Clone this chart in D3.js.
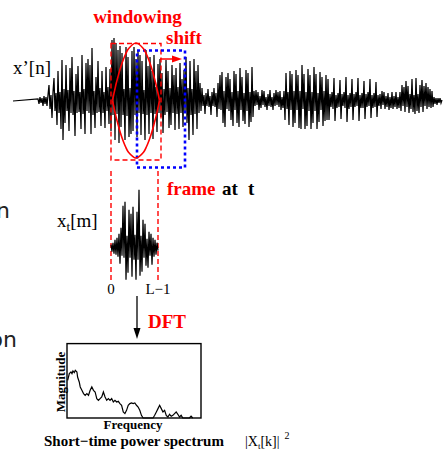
<!DOCTYPE html>
<html><head><meta charset="utf-8">
<script src="https://cdn.jsdelivr.net/npm/d3@7"></script>
<style>html,body{margin:0;padding:0;background:#fff;} svg{display:block;}</style>
</head><body>
<svg id="c" width="443" height="454"></svg>
<script>
// ---- data ----
// speech signal x'[n], one sample per pixel column, amplitude in px units
const waveSamples = [
  2,-3,4,-2,3,-5,5,-3,4,-5,6,
  16,-8,6,-17,9,
  23,-10,8,-24,30,-12,9,-28,41,-39,
  12,-22,36,-10,11,-30,33,-12,44,-14,10,-35,27,-12,
  35,-11,9,-28,46,-13,12,-33,38,-10,42,-12,36,
  -33,53,-14,
  10,-27,24,-12,40,-11,13,-25,30,-12,9,-27,34,-10,14,-23,32,
  -30,61,-14,63,-39,58,-13,51,-42,55,
  -26,48,-14,12,-39,54,-15,44,-36,13,-33,50,-30,
  54,-14,42,-36,50,-12,46,
  -34,40,-13,11,-39,51,-14,35,-33,44,-12,30,-38,46,-13,14,-31,37,-12,42,
  -16,28,-32,12,-14,41,-11,30,-27,13,-24,36,-12,26,-29,33,-13,14,-28,38,-12,22,-26,
  31,-12,44,-22,13,-39,40,-14,12,-34,42,-13,30,-28,36,-12,18,
  -10,13,-5,6,-13,8,-5,12,-6,5,-14,9,-5,13,-6,8,
  -16,18,-8,26,-9,29,-22,10,-26,24,-8,28,-10,22,-19,9,-25,30,-9,27,-22,10,-26,33,-9,24,-20,8,-23,31,-10,28,-26,9,-21,34,-16,
  10,-5,11,-4,9,-9,5,-7,11,-4,10,-6,4,-9,7,-5,11,-6,4,-9,8,-5,11,-4,9,-6,10,-9,4,-7,10,
  -19,28,-8,9,-24,30,-9,27,-26,10,-22,31,-9,26,-27,10,-28,36,-8,27,-28,9,-25,32,-10,26,-28,9,-22,34,-10,27,-28,8,-21,29,-9,24,-25,10,-20,26,-19,
  22,-19,7,-6,9,-8,23,-20,6,-7,8,-6,21,-18,7,-5,9,-7,24,-21,6,-8,8,-6,22,-19,7,-6,9,-5,23,-20,6,-7,8,-7,20,-18,7,-6,9,-5,22,-17,6,-7,8,-6,19,-16,6,-5,7,
  -8,10,-4,9,-8,5,-6,8,-9,4,-7,9,-8,5,-6,9,-8,4,-7,9,
  -10,16,-5,14,-11,20,-6,15,-12,7,-8,22,-11,6,-13,23,-10,7,-12,16,-6,21,-11,15,-5,18,-8,14,-6,12,-7,10,-6,
  4,-3,3,-4,3,-2,3,-2,1
];
const silentSamples = 25;          // flat lead-in before the speech starts
// windowed frame x_t[m]
const frameSamples = [
  3,-4,5,-6,8,-7,10,-9,
  14,-16,20,-8,42,-10,46,-32,
  12,-25,38,-10,34,-29,41,-12,
  13,-32,36,-12,58,-28,12,-24,
  28,-10,24,-18,9,-20,16,-8,
  14,-17,10,-9,8,-7,5,-3
];
// short-time power spectrum
const specBins = [0.4,1.4,2.4,3,3.6,4.4,5,6,6.4,7.4,8,9,10,11,12,13,14,15,16,17,18,19,20,21,22,23,24,25,26,27,28,29,30,31,32,33,34,35,36,37,38,39,40,41,42,43,44,45,46,52,53,54,55,56,57,58,59,60,61,62,63,64,65,66,67,68,69,70,74,75,76];
const specMag  = [50.7,59.7,61.8,59.7,63.2,61.0,64.1,61.8,55.1,48.4,41.7,37.2,32.8,30.5,32.8,30.5,37.2,41.7,37.2,35.0,26.1,23.8,26.1,28.2,35.0,28.2,23.8,26.1,23.8,26.1,21.5,23.8,21.5,22.4,19.4,17.1,8.1,5.9,10.3,17.1,19.4,20.2,19.4,20.2,17.1,14.8,10.3,3.6,0,0,3.6,8.1,12.6,17.1,12.6,8.1,10.3,3.6,1.3,5.0,2.3,3.6,5.9,8.1,5.0,1.3,3.6,0,0,2.5,0];
// analysis window outline: relative half-width from centre (0) to edge (1)
const windowProfile = [1, 0.95, 0.895, 0.84, 0.775, 0.71, 0.635, 0.55, 0.45, 0.32, 0];
const windowStart = 73, windowLength = 49, windowShift = 26;
const frameTicks = ["0", "L\u22121"];

// ---- drawing ----
const svg = d3.select("#c");
const SERIF = "'Liberation Serif','Times New Roman',serif";
const RED = "#ff0000", BLUE = "#0000ff";

const xWave = d3.scaleLinear().domain([0, waveSamples.length - 1]).range([38, 442]);
const yWave = d3.scaleLinear().domain([-64, 64]).range([165, 37]);

const wavePts = [[-silentSamples, 0]].concat(waveSamples.map((v, i) => [i, v]));
svg.append("path")
  .attr("d", d3.line().x(d => xWave(d[0])).y(d => yWave(d[1]))(wavePts))
  .attr("fill", "none").attr("stroke", "#000").attr("stroke-width", 1.25);

// red window frame + blue shifted frame
const rx0 = xWave(windowStart), rx1 = xWave(windowStart + windowLength + 1);
svg.append("rect").attr("x", rx0).attr("y", yWave(57.5)).attr("width", rx1 - rx0)
  .attr("height", yWave(-59) - yWave(57.5))
  .attr("fill", "none").attr("stroke", RED).attr("stroke-width", 1.4).attr("stroke-dasharray", "5,3");
const bx0 = xWave(windowStart + windowShift), bx1 = xWave(windowStart + windowShift + windowLength - 1);
svg.append("rect").attr("x", bx0).attr("y", yWave(50.5)).attr("width", bx1 - bx0)
  .attr("height", yWave(-66.5) - yWave(50.5))
  .attr("fill", "none").attr("stroke", BLUE).attr("stroke-width", 2.6).attr("stroke-dasharray", "3,3");

// window lens
const cx = (xWave(windowStart + 1) + xWave(windowStart + windowLength)) / 2;
const A = 23.5, H = 57.5, cy = yWave(0.5);
const n = windowProfile.length;
const upper = [], lower = [];
windowProfile.forEach((w, i) => { const s = i / (n - 1); upper.push([cx - A * w, cy - H * s]); lower.push([cx - A * w, cy + H * s]); });
for (let i = n - 2; i >= 0; i--) { const s = i / (n - 1), w = windowProfile[i]; upper.push([cx + A * w, cy - H * s]); lower.push([cx + A * w, cy + H * s]); }
const lens = d3.line().curve(d3.curveCatmullRom);
[upper, lower].forEach(p => svg.append("path").attr("d", lens(p))
  .attr("fill", "none").attr("stroke", RED).attr("stroke-width", 1.6));

// shift arrow
svg.append("line").attr("x1", 160).attr("y1", 59).attr("x2", 174).attr("y2", 59)
  .attr("stroke", RED).attr("stroke-width", 1.5);
svg.append("path").attr("d", "M182,59 L172,55.5 L172,62.5 Z").attr("fill", RED);

// texts top
svg.append("text").attr("x", 137.5).attr("y", 23).attr("text-anchor", "middle")
  .attr("font-family", SERIF).attr("font-weight", "bold").attr("font-size", 19).attr("fill", RED).text("windowing");
svg.append("text").attr("x", 166).attr("y", 44)
  .attr("font-family", SERIF).attr("font-weight", "bold").attr("font-size", 19).attr("fill", RED).text("shift");
svg.append("text").attr("x", 13).attr("y", 74)
  .attr("font-family", SERIF).attr("font-size", 19).attr("fill", "#000").text("x\u2019[n]");
svg.append("text").attr("x", 167).attr("y", 195)
  .attr("font-family", SERIF).attr("font-weight", "bold").attr("font-size", 19).attr("fill", RED).text("frame");
svg.append("text").attr("x", 222).attr("y", 195)
  .attr("font-family", SERIF).attr("font-weight", "bold").attr("font-size", 19).attr("fill", "#000").text("at");
svg.append("text").attr("x", 248).attr("y", 195)
  .attr("font-family", SERIF).attr("font-weight", "bold").attr("font-size", 19).attr("fill", "#000").text("t");

// frame guide lines
const xFrame = d3.scaleLinear().domain([0, frameSamples.length - 1]).range([111, 158]);
const yFrame = d3.scaleLinear().domain([-64, 64]).range([311.7, 183.7]);
[0, frameSamples.length - 1].forEach(i => svg.append("line")
  .attr("x1", xFrame(i)).attr("x2", xFrame(i)).attr("y1", 171).attr("y2", 281)
  .attr("stroke", RED).attr("stroke-width", 1.4).attr("stroke-dasharray", "5,3"));

svg.append("path")
  .attr("d", d3.line().x((d, i) => xFrame(i)).y(d => yFrame(d))(frameSamples))
  .attr("fill", "none").attr("stroke", "#000").attr("stroke-width", 1.25);

const xt = svg.append("text").attr("x", 57).attr("y", 227)
  .attr("font-family", SERIF).attr("font-size", 19).attr("fill", "#000");
xt.append("tspan").text("x");
xt.append("tspan").attr("dy", 4).attr("font-size", 13).text("t");
xt.append("tspan").attr("dy", -4).text("[m]");

frameTicks.forEach((t, i) => svg.append("text")
  .attr("x", xFrame(i * (frameSamples.length - 1))).attr("y", 294).attr("text-anchor", "middle")
  .attr("font-family", SERIF).attr("font-size", 15).attr("fill", "#000").text(t));

// DFT arrow
svg.append("line").attr("x1", 137).attr("y1", 296).attr("x2", 137).attr("y2", 330)
  .attr("stroke", "#000").attr("stroke-width", 1.3);
svg.append("path").attr("d", "M137,339 L133.5,328 L140.5,328 Z").attr("fill", "#000");
svg.append("text").attr("x", 148).attr("y", 328)
  .attr("font-family", SERIF).attr("font-weight", "bold").attr("font-size", 19).attr("fill", RED).text("DFT");

// spectrum
const xSpec = d3.scaleLinear().domain([0, 81]).range([67, 201]);
const ySpec = d3.scaleLinear().domain([0, 100]).range([418, 343.6]);
svg.append("path")
  .attr("d", d3.line().x((d, i) => xSpec(specBins[i])).y(d => ySpec(d))(specMag))
  .attr("fill", "none").attr("stroke", "#000").attr("stroke-width", 1.2);
svg.append("rect").attr("x", xSpec(0)).attr("y", ySpec(100)).attr("width", xSpec(81) - xSpec(0))
  .attr("height", ySpec(0) - ySpec(100)).attr("fill", "none").attr("stroke", "#000").attr("stroke-width", 1.4);

svg.append("text").attr("transform", "translate(65,382) rotate(-90)").attr("text-anchor", "middle")
  .attr("font-family", SERIF).attr("font-weight", "bold").attr("font-size", 13).text("Magnitude");
svg.append("text").attr("x", 133).attr("y", 429).attr("text-anchor", "middle")
  .attr("font-family", SERIF).attr("font-weight", "bold").attr("font-size", 13).text("Frequency");
svg.append("text").attr("x", 44).attr("y", 446)
  .attr("font-family", SERIF).attr("font-weight", "bold").attr("font-size", 15).text("Short\u2212time power spectrum");
const ps = svg.append("text").attr("x", 245).attr("y", 446)
  .attr("font-family", SERIF).attr("font-size", 14).attr("fill", "#000");
ps.append("tspan").text("|X");
ps.append("tspan").attr("dy", 3).attr("font-size", 9).text("t");
ps.append("tspan").attr("dy", -3).text("[k]|");
ps.append("tspan").attr("dx", 5).attr("dy", -7).attr("font-size", 10).text("2");

// cut-off slide text at the left edge (partially outside the picture, as in the reference)
const SANS = "'DejaVu Sans',sans-serif";
svg.append("text").attr("x", 10).attr("y", 218).attr("text-anchor", "end")
  .attr("font-family", SANS).attr("font-size", 22).attr("fill", "#222").text("n");
svg.append("text").attr("x", 17).attr("y", 347).attr("text-anchor", "end")
  .attr("font-family", SANS).attr("font-size", 22).attr("fill", "#222").text("on");
</script>
</body></html>
